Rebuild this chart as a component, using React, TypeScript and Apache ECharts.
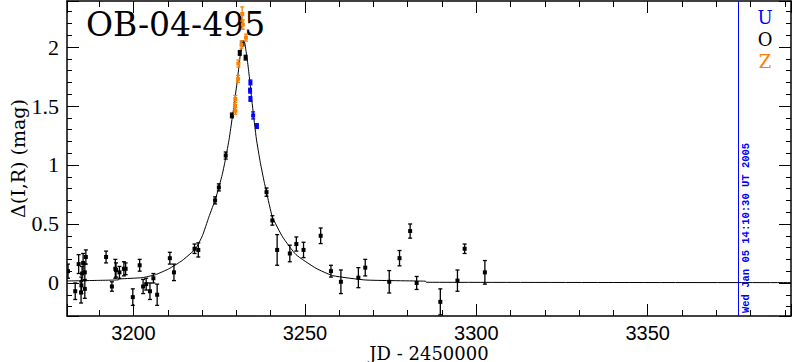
import React, { useEffect, useRef } from "react";
import * as echarts from "echarts";

const X_MIN = 3180.6;
const X_MAX = 3391.8;
const Y_MIN = -0.28;
const Y_MAX = 2.39;
const MARK_JD = 3376.3;
const MARK_TEXT = "Wed Jan 05 14:10:30 UT 2005";
const TITLE = "OB-04-495";
const X_NAME = "JD - 2450000";
const Y_NAME = "Δ(I,R) (mag)";

// [JD-2450000, Δmag, error]
const oData: number[][] = [
  [3180.9, 0.10, 0.06], [3183.0, -0.07, 0.07], [3184.0, 0.16, 0.08], [3184.7, -0.08, 0.09],
  [3184.8, -0.02, 0.07], [3185.0, 0.08, 0.06], [3185.3, 0.17, 0.08], [3185.8, 0.09, 0.07],
  [3185.8, -0.05, 0.08], [3186.1, 0.22, 0.06], [3192.0, 0.22, 0.05], [3193.7, -0.03, 0.04],
  [3194.7, 0.12, 0.08], [3194.9, 0.11, 0.06], [3195.9, 0.09, 0.05], [3197.2, 0.12, 0.06],
  [3197.7, 0.12, 0.05], [3199.8, -0.12, 0.07], [3201.8, 0.15, 0.05], [3202.8, -0.03, 0.06],
  [3203.7, -0.01, 0.05], [3204.8, -0.07, 0.07], [3205.8, 0.04, 0.04], [3206.9, -0.10, 0.09],
  [3210.6, 0.21, 0.05], [3211.8, 0.09, 0.07], [3217.8, 0.29, 0.04], [3218.9, 0.28, 0.06],
  [3223.8, 0.70, 0.03], [3224.9, 0.81, 0.03], [3226.9, 1.08, 0.03], [3228.7, 1.42, 0.02],
  [3231.0, 1.95, 0.02], [3231.8, 2.03, 0.02], [3232.7, 1.91, 0.02], [3238.8, 0.77, 0.035],
  [3240.5, 0.53, 0.04], [3241.9, 0.28, 0.13], [3245.6, 0.25, 0.07], [3247.5, 0.33, 0.06],
  [3249.6, 0.28, 0.065], [3254.6, 0.40, 0.066], [3257.6, 0.10, 0.05], [3260.5, 0.01, 0.10],
  [3265.6, 0.045, 0.085], [3267.6, 0.13, 0.07], [3274.6, 0.01, 0.095], [3277.6, 0.21, 0.065],
  [3280.7, 0.44, 0.06], [3282.6, 0.00, 0.055], [3289.5, -0.16, 0.11], [3294.5, 0.02, 0.09],
  [3296.6, 0.29, 0.04], [3302.5, 0.09, 0.10],
];

const zData: number[][] = [
  [3231.7, 2.28, 0.06], [3231.9, 2.19, 0.04], [3232.8, 2.08, 0.03], [3231.5, 2.02, 0.03],
  [3230.6, 1.86, 0.03], [3230.5, 1.73, 0.03], [3229.7, 1.56, 0.03], [3229.6, 1.50, 0.03],
  [3229.7, 1.46, 0.03],
];

const uData: number[][] = [
  [3234.1, 1.70, 0.02], [3234.0, 1.63, 0.02], [3234.1, 1.56, 0.02], [3234.9, 1.42, 0.03],
  [3236.0, 1.33, 0.02],
];

// model light curve
const modelCurve: number[][] = [
  [3180.6, 0.017], [3189.9, 0.022], [3195.5, 0.026], [3196.0, 0.034], [3202.5, 0.045],
  [3206.4, 0.07], [3210.3, 0.12], [3214.2, 0.19], [3218.1, 0.29], [3220.1, 0.40],
  [3222.0, 0.56], [3224.0, 0.72], [3225.9, 0.92], [3226.9, 1.06], [3227.9, 1.22],
  [3228.8, 1.40], [3229.3, 1.50], [3230.3, 1.72], [3231.0, 1.90], [3231.4, 1.98],
  [3232.0, 2.045], [3232.25, 2.05], [3232.5, 2.03], [3232.75, 1.98], [3233.2, 1.89],
  [3233.7, 1.77], [3234.7, 1.50], [3235.85, 1.22], [3237.0, 1.02], [3238.1, 0.86],
  [3238.8, 0.77], [3240.5, 0.56], [3243.5, 0.39], [3247.4, 0.24], [3253.2, 0.125],
  [3258.1, 0.062], [3267.8, 0.025], [3285.2, 0.015], [3285.4, 0.006], [3391.8, 0.003],
];

const legendItems = [
  { name: "U", color: "#0000ff" },
  { name: "O", color: "#000000" },
  { name: "Z", color: "#ff8000" },
];

const isMultiple = (v: number, step: number) =>
  Math.abs(v / step - Math.round(v / step)) < 1e-6;

const errorBarSeries = (name: string, data: number[][], color: string) => ({
  type: "custom",
  name,
  data,
  clip: true,
  encode: { x: 0, y: 1 },
  renderItem: (_params: any, api: any) => {
    const x = api.value(0);
    const y = api.value(1);
    const e = api.value(2);
    const c = api.coord([x, y]);
    const hi = api.coord([x, y + e]);
    const lo = api.coord([x, y - e]);
    const cap = 2;
    const st = { stroke: color, lineWidth: 1.3 };
    return {
      type: "group",
      children: [
        { type: "line", shape: { x1: c[0], y1: hi[1], x2: c[0], y2: lo[1] }, style: st },
        { type: "line", shape: { x1: c[0] - cap, y1: hi[1], x2: c[0] + cap, y2: hi[1] }, style: st },
        { type: "line", shape: { x1: c[0] - cap, y1: lo[1], x2: c[0] + cap, y2: lo[1] }, style: st },
        { type: "rect", shape: { x: c[0] - 2, y: c[1] - 2, width: 4, height: 4 }, style: { fill: color } },
      ],
    };
  },
});

const axisLineStyle = { show: true, onZero: false, lineStyle: { color: "#000", width: 1.5 } };

const makeX = (pos: "bottom" | "top") => ({
  type: "value",
  position: pos,
  min: X_MIN,
  max: X_MAX,
  splitNumber: 4,
  axisLine: axisLineStyle,
  axisTick: { show: true, inside: true, length: 12, lineStyle: { color: "#000", width: 1 } },
  minorTick: { show: true, splitNumber: 5, length: 6, lineStyle: { color: "#000", width: 1 } },
  splitLine: { show: false },
  minorSplitLine: { show: false },
  axisLabel: {
    show: pos === "bottom",
    formatter: (v: number) => (isMultiple(v, 50) ? String(Math.round(v)) : ""),
    color: "#000",
    fontFamily: "Liberation Sans",
    fontSize: 20,
    margin: 7,
  },
  name: pos === "bottom" ? X_NAME : "",
  nameLocation: "middle",
  nameGap: 28,
  nameMoveOverlap: false,
  nameTextStyle: { color: "#000", fontFamily: "DejaVu Serif", fontSize: 18 },
});

const makeY = (pos: "left" | "right") => ({
  type: "value",
  position: pos,
  min: Y_MIN,
  max: Y_MAX,
  splitNumber: 5,
  axisLine: axisLineStyle,
  axisTick: { show: true, inside: true, length: 12, lineStyle: { color: "#000", width: 1 } },
  minorTick: { show: true, splitNumber: 5, length: 5, lineStyle: { color: "#000", width: 1 } },
  splitLine: { show: false },
  minorSplitLine: { show: false },
  axisLabel: {
    show: pos === "left",
    formatter: (v: number) => (isMultiple(v, 0.5) ? String(Math.round(v * 10) / 10) : ""),
    color: "#000",
    fontFamily: "Liberation Serif",
    fontSize: 22,
    margin: 8,
  },
  name: pos === "left" ? Y_NAME : "",
  nameLocation: "middle",
  nameGap: 40,
  nameMoveOverlap: false,
  nameRotate: 90,
  nameTextStyle: { color: "#000", fontFamily: "DejaVu Serif", fontSize: 19 },
});

export default function App() {
  const ref = useRef<HTMLDivElement>(null);
  useEffect(() => {
    const chart = echarts.init(ref.current!, null, { renderer: "svg" });
    const option: any = {
      animation: false,
      backgroundColor: "#ffffff",
      grid: { left: 67, right: 1, top: 1, bottom: 46, containLabel: false, outerBoundsMode: "none" },
      xAxis: [makeX("bottom"), makeX("top")],
      yAxis: [makeY("left"), makeY("right")],
      graphic: [
        {
          type: "text",
          left: 86,
          top: 8,
          style: { text: TITLE, fill: "#000", font: "33px 'DejaVu Serif'" },
        },
        ...legendItems.map((it, i) => ({
          type: "text",
          x: 765,
          y: 17 + i * 22,
          style: {
            text: it.name,
            fill: it.color,
            font: "18px 'DejaVu Serif'",
            align: "center",
            verticalAlign: "middle",
          },
        })),
      ],
      series: [
        {
          type: "line",
          name: "model",
          data: modelCurve,
          showSymbol: false,
          symbol: "none",
          smooth: 0.15,
          lineStyle: { color: "#000", width: 1 },
          clip: true,
          z: 1,
          markLine: {
            silent: true,
            symbol: ["none", "none"],
            lineStyle: { color: "#0000ff", type: "solid", width: 1 },
            label: {
              show: true,
              formatter: MARK_TEXT,
              position: "insideStartBottom",
              distance: 3,
              color: "#0000ff",
              fontFamily: "Liberation Mono",
              fontWeight: "bold",
              fontSize: 10.5,
            },
            data: [{ xAxis: MARK_JD }],
          },
        },
        errorBarSeries("O", oData, "#000000"),
        errorBarSeries("Z", zData, "#ff8000"),
        errorBarSeries("U", uData, "#0000ff"),
      ],
    };
    chart.setOption(option);
    return () => chart.dispose();
  }, []);
  return (
    <div
      ref={ref}
      style={{ position: "fixed", left: 0, top: 0, width: 792, height: 362, background: "#fff" }}
    />
  );
}
